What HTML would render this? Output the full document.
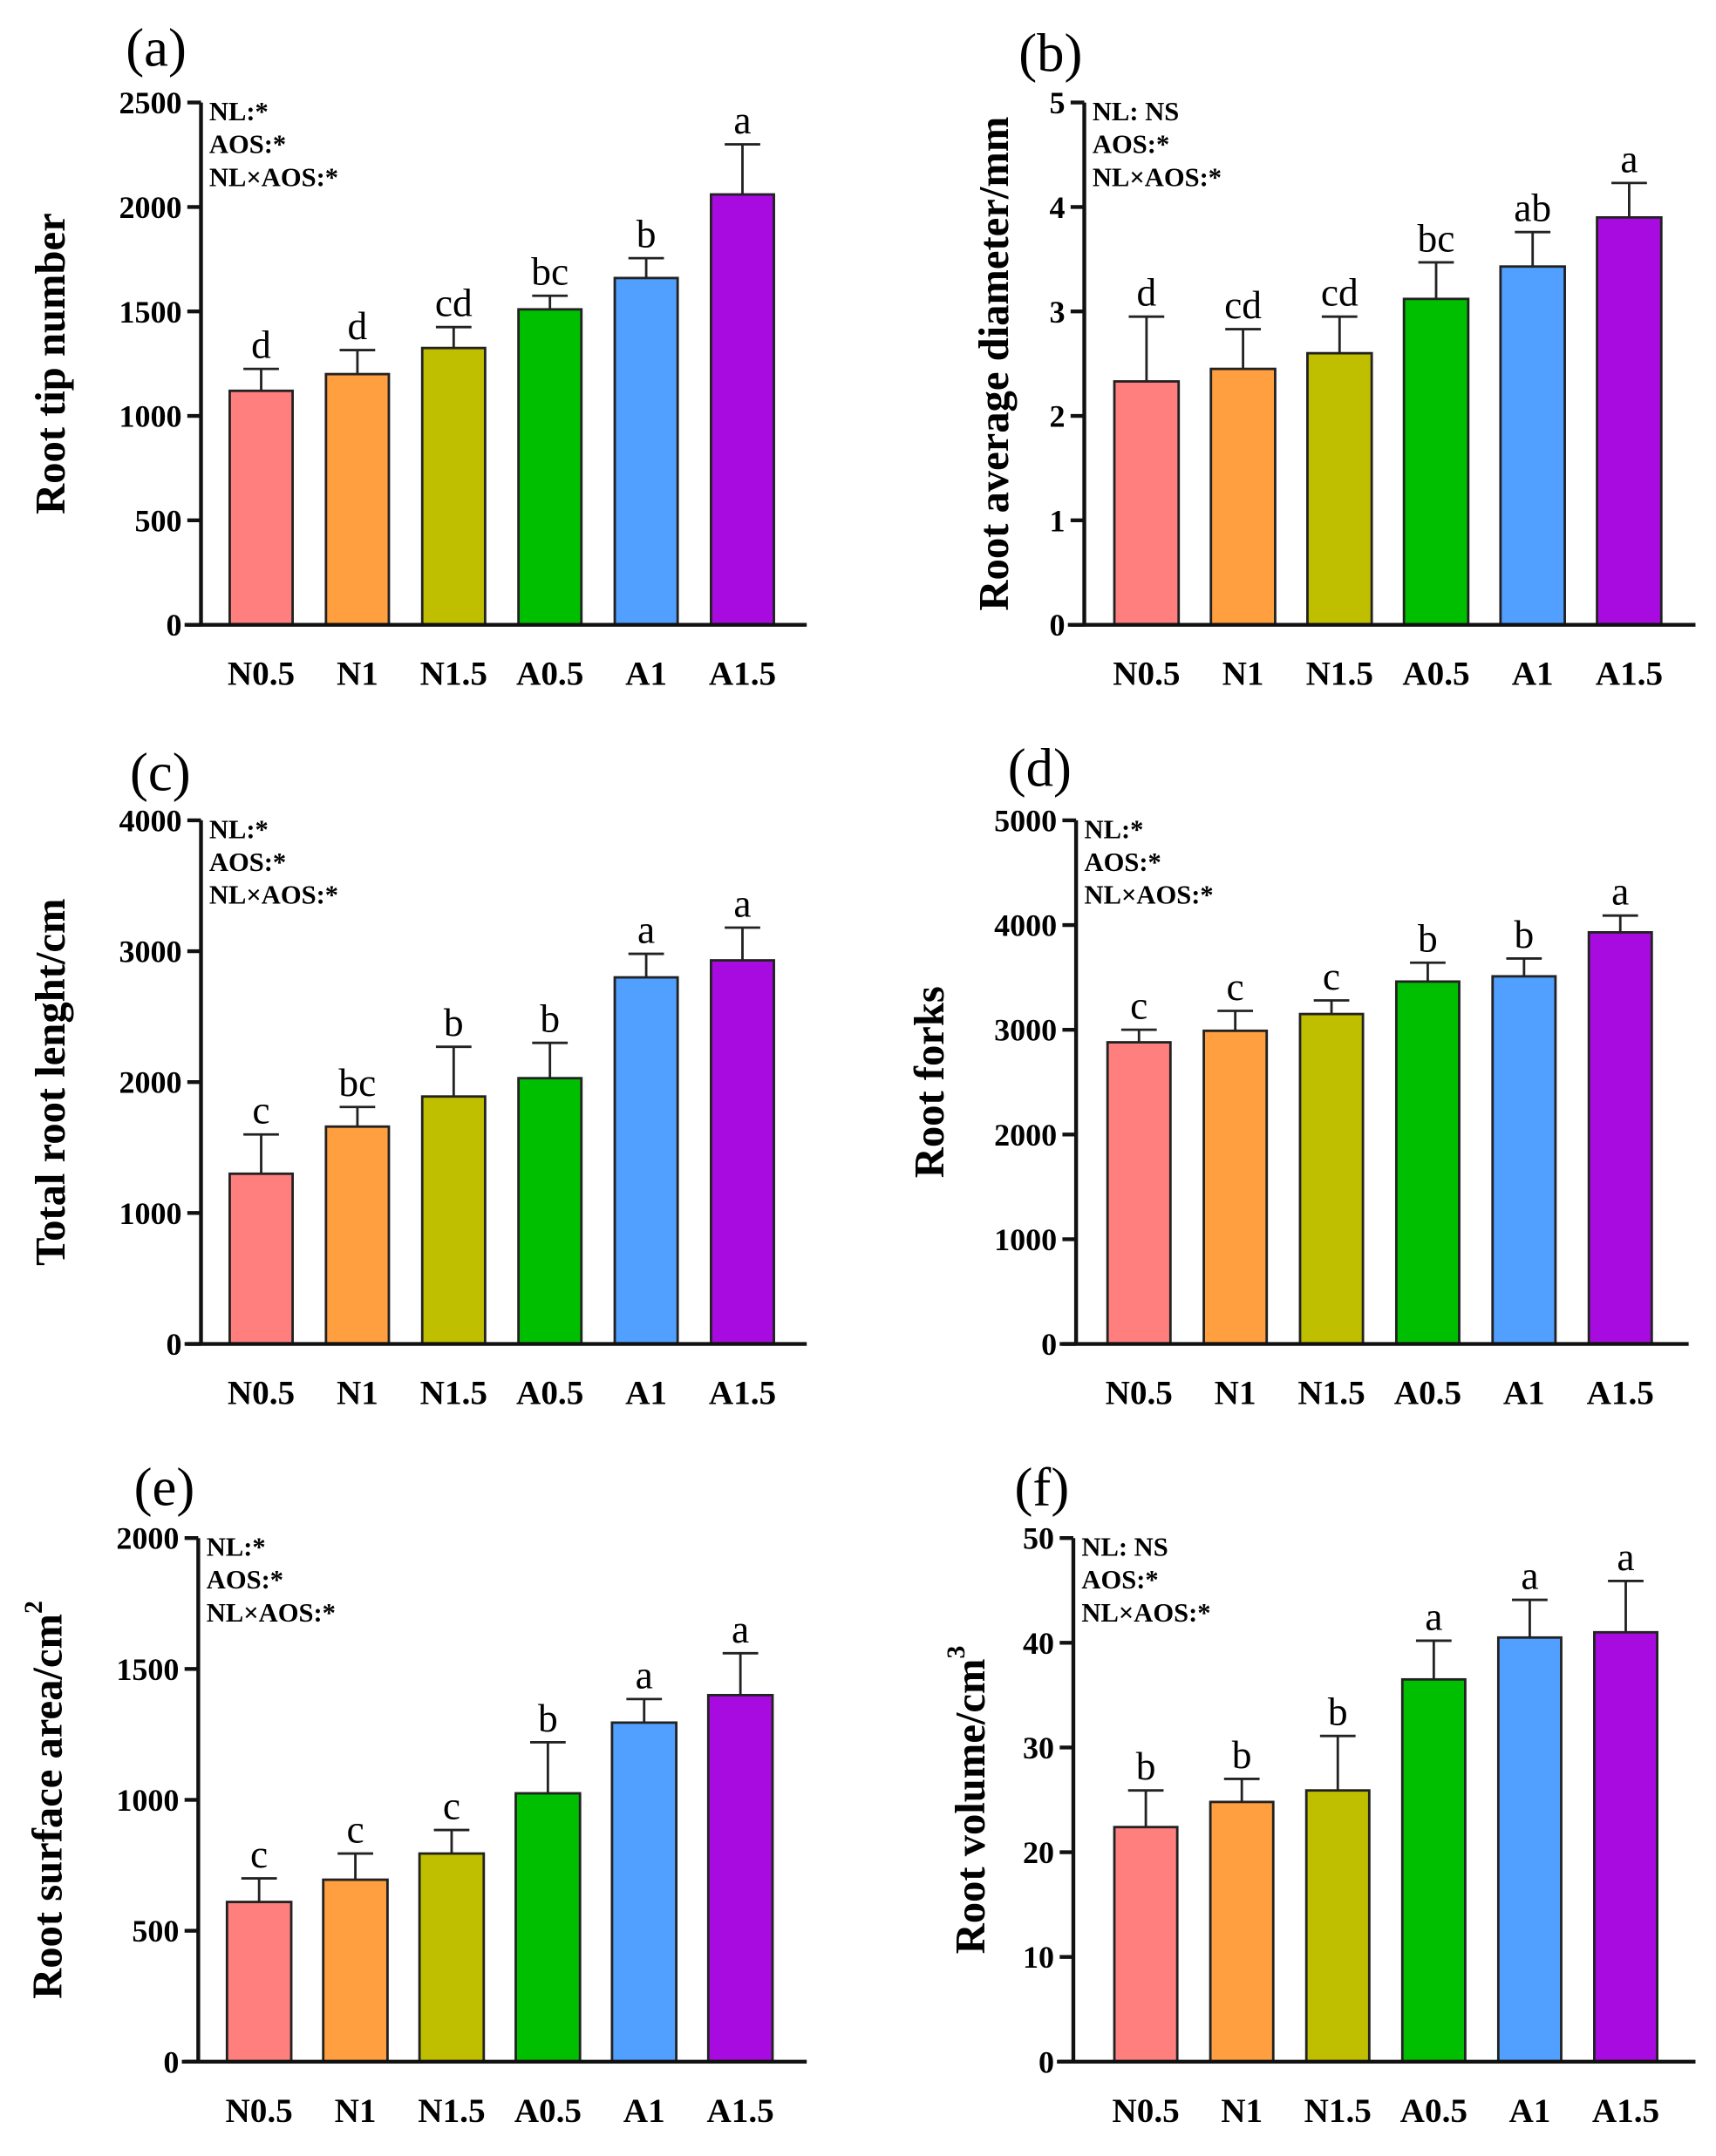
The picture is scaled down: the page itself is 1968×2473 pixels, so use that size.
<!DOCTYPE html>
<html><head><meta charset="utf-8">
<style>
html,body{margin:0;padding:0;background:#fff;}
svg{display:block;}
text{font-family:"Liberation Serif","Times New Roman",serif;}
</style></head>
<body>
<svg id="fig" width="1968" height="2473" viewBox="0 0 1255 1577" preserveAspectRatio="none" xmlns="http://www.w3.org/2000/svg"></svg>
<script>
const categories = ["N0.5","N1","N1.5","A0.5","A1","A1.5"];
const barColors = ["#FF7F7F","#FF9F3F","#BFBF00","#00BF00","#519FFF","#A70BE0"];

const valuesA = [1120,1200,1325,1510,1660,2060];
const errorsA = [105,115,100,65,95,240];
const lettersA = ["d","d","cd","bc","b","a"];
const ticksA = [0,500,1000,1500,2000,2500];

const valuesB = [2.33,2.45,2.6,3.12,3.43,3.9];
const errorsB = [0.62,0.38,0.35,0.35,0.33,0.33];
const lettersB = ["d","cd","cd","bc","ab","a"];
const ticksB = [0,1,2,3,4,5];

const valuesC = [1300,1660,1890,2030,2800,2930];
const errorsC = [300,150,380,270,180,250];
const lettersC = ["c","bc","b","b","a","a"];
const ticksC = [0,1000,2000,3000,4000];

const valuesD = [2880,2990,3150,3460,3510,3930];
const errorsD = [120,190,130,180,170,160];
const lettersD = ["c","c","c","b","b","a"];
const ticksD = [0,1000,2000,3000,4000,5000];

const valuesE = [610,695,795,1025,1295,1400];
const errorsE = [90,100,90,195,90,160];
const lettersE = ["c","c","c","b","a","a"];
const ticksE = [0,500,1000,1500,2000];

const valuesF = [22.4,24.8,25.9,36.5,40.5,41];
const errorsF = [3.5,2.2,5.2,3.7,3.6,4.9];
const lettersF = ["b","b","b","a","a","a"];
const ticksF = [0,10,20,30,40,50];

const NS = "http://www.w3.org/2000/svg";
const svg = document.getElementById("fig");
function mk(tag, attrs, parent){
  const e = document.createElementNS(NS, tag);
  for (const k in attrs) e.setAttribute(k, attrs[k]);
  (parent||svg).appendChild(e);
  return e;
}

const panels = [
  {id:"a", vals:valuesA, errs:errorsA, lets:lettersA, ticks:ticksA, ax:147, top:75, bot:457, x0:168, step:70.4, bw:46, xr:590, lx:92, ly:48, title:"Root tip number", tx:40, nl:"NL:*"},
  {id:"b", vals:valuesB, errs:errorsB, lets:lettersB, ticks:ticksB, ax:793, top:75, bot:457, x0:815, step:70.6, bw:47, xr:1240, lx:745, ly:52, title:"Root average diameter/mm", tx:730, nl:"NL: NS"},
  {id:"c", vals:valuesC, errs:errorsC, lets:lettersC, ticks:ticksC, ax:147, top:600, bot:983, x0:168, step:70.4, bw:46, xr:590, lx:95, ly:578, title:"Total root lenght/cm", tx:40, nl:"NL:*"},
  {id:"d", vals:valuesD, errs:errorsD, lets:lettersD, ticks:ticksD, ax:787, top:600, bot:983, x0:810, step:70.4, bw:46, xr:1235, lx:737, ly:575, title:"Root forks", tx:683, nl:"NL:*"},
  {id:"e", vals:valuesE, errs:errorsE, lets:lettersE, ticks:ticksE, ax:145, top:1125, bot:1508, x0:166, step:70.4, bw:47, xr:590, lx:98, ly:1101, title:"Root surface area/cm", sup:"2", tx:38, nl:"NL:*"},
  {id:"f", vals:valuesF, errs:errorsF, lets:lettersF, ticks:ticksF, ax:785, top:1125, bot:1508, x0:815, step:70.2, bw:46, xr:1240, lx:742, ly:1101, title:"Root volume/cm", sup:"3", tx:713, nl:"NL: NS"}
];

panels.forEach(p => {
  const g = mk("g", {});
  
  
  const ymax = p.ticks[p.ticks.length-1];
  const yScale = v => p.bot - (v/ymax)*(p.bot-p.top);
  const xBar = i => p.x0 + i*p.step;

  const lab = mk("text", {x:p.lx, y:p.ly, "font-size":40}, g);
  lab.textContent = "(" + p.id + ")";
  
  

  p.vals.forEach((v,i) => {
    const x = xBar(i), y = yScale(v), ye = yScale(v + p.errs[i]);
    const cx = x + p.bw/2;
    const el = mk("line", {x1:cx, x2:cx, y1:y, y2:ye, stroke:"#222", "stroke-width":1.8}, g);
    
    
    const cap = mk("line", {x1:cx-13, x2:cx+13, y1:ye, y2:ye, stroke:"#222", "stroke-width":1.8}, g);
    
    
    const r = mk("rect", {x:x, y:y, width:p.bw, height:p.bot-y, fill:barColors[i], stroke:"#222", "stroke-width":1.8}, g);
    
    
    const t = mk("text", {x:cx, y:ye-8, "font-size":29, "text-anchor":"middle"}, g);
    t.textContent = p.lets[i];
    
    
    const xl = mk("text", {x:cx, y:p.bot+44, "font-size":25, "font-weight":"bold", "text-anchor":"middle"}, g);
    xl.textContent = categories[i];
    
    
  });

  const ya = mk("line", {x1:p.ax, x2:p.ax, y1:p.top, y2:p.bot, stroke:"#111", "stroke-width":2.8}, g);
  
  
  const xa = mk("line", {x1:p.ax-12, x2:p.xr, y1:p.bot, y2:p.bot, stroke:"#111", "stroke-width":2.8}, g);
  
  
  p.ticks.forEach(tv => {
    const y = yScale(tv);
    const tk = mk("line", {x1:p.ax-10, x2:p.ax, y1:y, y2:y, stroke:"#111", "stroke-width":2.8}, g);
    
    
    const tl = mk("text", {x:p.ax-14, y:y+8, "font-size":23, "font-weight":"bold", "text-anchor":"end"}, g);
    tl.textContent = tv;
    
    
  });

  const cy = (p.top+p.bot)/2;
  const yt = mk("text", {x:p.tx, y:cy, "font-size":31, "font-weight":"bold", "text-anchor":"middle", transform:"rotate(-90 "+p.tx+" "+cy+")", "dominant-baseline":"middle"}, g);
  yt.textContent = p.title;
  if (p.sup) {
    const s = mk("tspan", {"font-size":19, dy:-12}, yt);
    s.textContent = p.sup;
  }
  
  

  [p.nl, "AOS:*", "NL\u00d7AOS:*"].forEach((s,k) => {
    const a = mk("text", {x:p.ax+6, y:p.top+13+k*24, "font-size":19.5, "font-weight":"bold"}, g);
    a.textContent = s;
    
    
  });
});
</script>
</body></html>
